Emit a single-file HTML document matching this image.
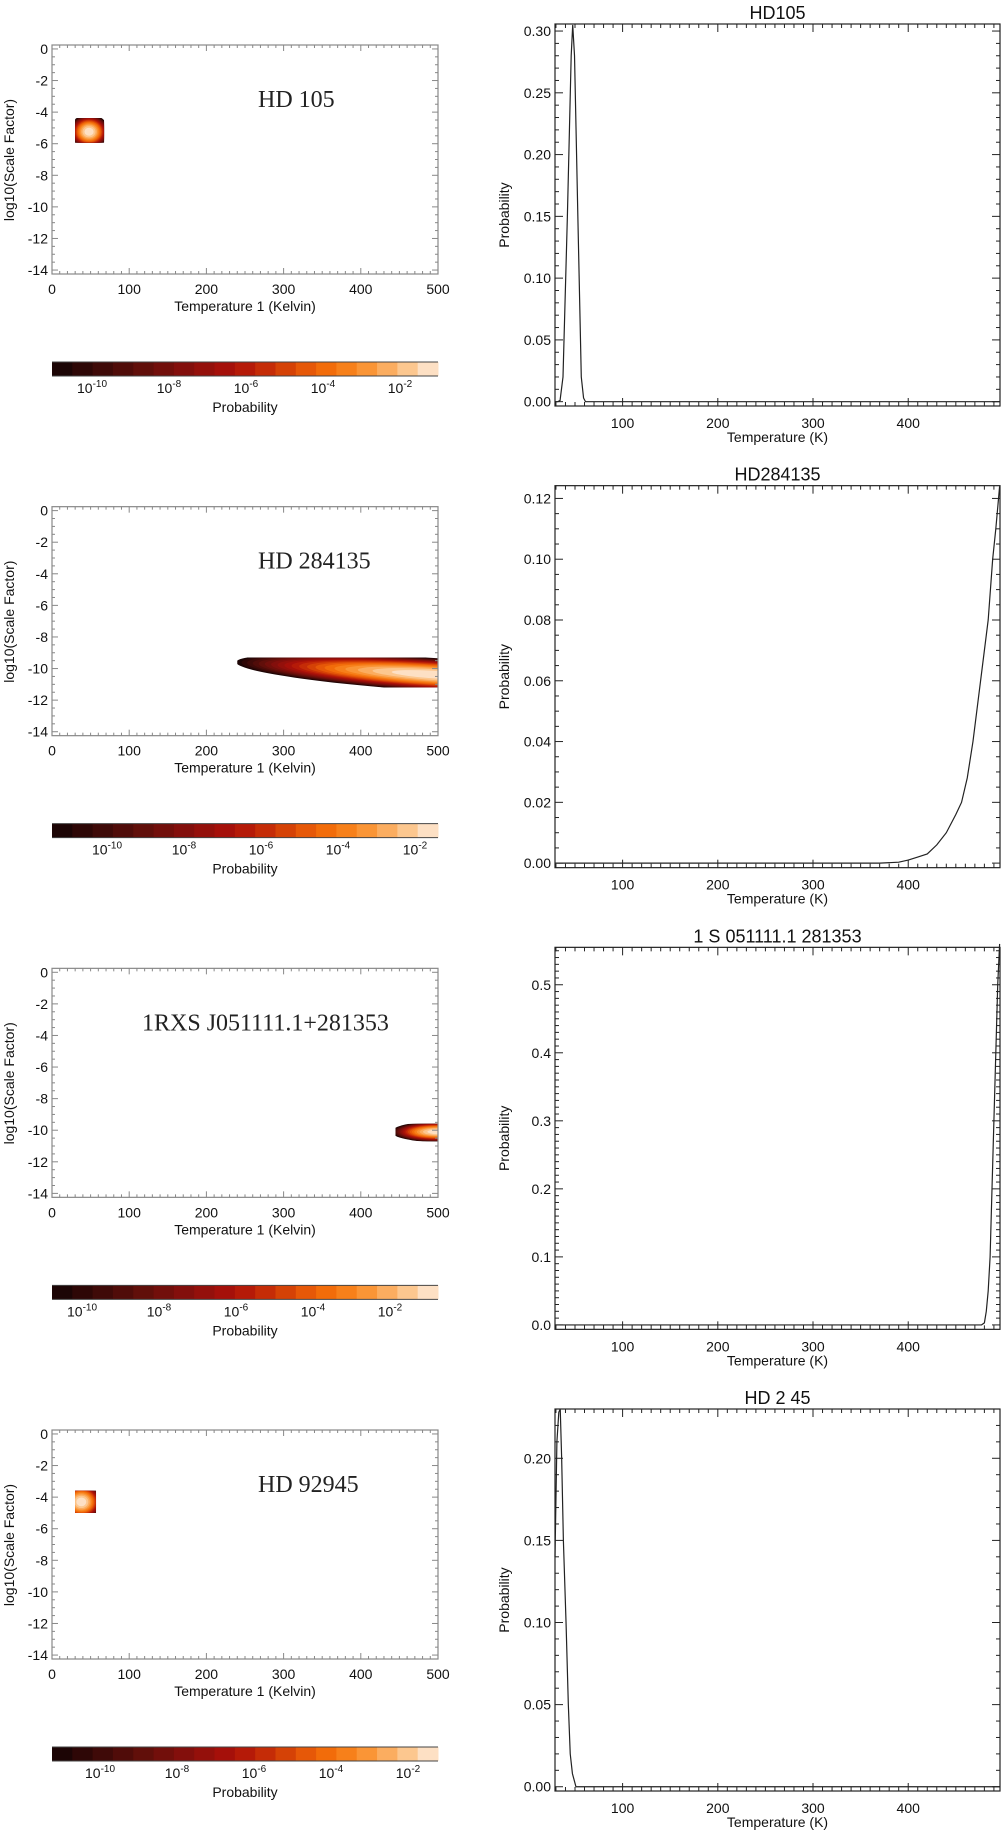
<!DOCTYPE html>
<html><head><meta charset="utf-8">
<style>
html,body{margin:0;padding:0;background:#fff;}
svg{display:block;font-family:"Liberation Sans",sans-serif;}
</style></head>
<body>
<svg id="fig" width="1003" height="1831" viewBox="0 0 1003 1831" xmlns="http://www.w3.org/2000/svg"></svg>
<script>
// ---------- data ----------
const panelTitlesLeft = ["HD 105","HD 284135","1RXS J051111.1+281353","HD 92945"];
const panelTitlesRight = ["HD105","HD284135","1  S 051111.1 281353","HD 2 45"];
const leftTitleX = [258,258,142,258];
// heatmap blob parameters (temperature K, log10 scale factor)
const blobCenterT = [48, 500, 500, 38];
const blobCenterS = [-5.24, -10.4, -10.1, -4.3];
const blobRadT = [26, 262, 60, 28];
const blobRadS = [1.1, 1.05, 0.65, 1.2];
const blobTiltDeg = [0, 3.6, 0, 0];
const blobTmin = [30, 240, 445, 30];
const blobTmax = [67.4, 500, 500, 57];
const blobSmin = [-5.93, -11.2, -10.7, -5.0];
const blobSmax = [-4.37, -9.3, -9.6, -3.6];
// colour table levels
const levelColors = ["#1c0505","#2e0706","#3f0a08","#500c09","#610f0a","#720f0b","#830f0c","#94100b","#a5100a","#b51a08","#c52c07","#d54206","#e65808","#f26c0a","#f7801a","#fa9536","#fbad60","#fcc78f","#fde0c4"];
const cbarExp = ["-10","-8","-6","-4","-2"];
const cbarLabelX0 = [92,107,82,100];
// right line plots
const probT1 = [29,32,34.3,37.4,42,46,47.6,49.5,53,56.6,59,61,65,496];
const probP1 = [0,0,0.001,0.02,0.15,0.28,0.305,0.28,0.15,0.02,0.003,0,0,0];
const probT2 = [29,370,390,400,410,420,430,440,450,456,462,468,472,476,480,484,488.7,492,496];
const probP2 = [0,0,0.0003,0.001,0.002,0.003,0.006,0.01,0.016,0.02,0.028,0.04,0.05,0.06,0.07,0.08,0.10,0.11,0.124];
const probT3 = [29,477,480,482,484,486,488,491,494,496];
const probP3 = [0,0,0.003,0.02,0.05,0.1,0.2,0.35,0.5,0.56];
const probT4 = [29,31,33,34.5,36,37.8,40.6,43,45,47.3,51,496];
const probP4 = [0.14,0.21,0.228,0.23,0.2,0.15,0.1,0.05,0.02,0.008,0,0];
const yMaxR = [0.3057,0.1242,0.555,0.23];
const yMinR = [-0.0035,-0.0015,-0.0065,-0.0026];
const yMajorR = [[0,0.05,0.10,0.15,0.20,0.25,0.30],[0,0.02,0.04,0.06,0.08,0.10,0.12],[0,0.1,0.2,0.3,0.4,0.5],[0,0.05,0.10,0.15,0.20]];
const yMajorLabR = [["0.00","0.05","0.10","0.15","0.20","0.25","0.30"],["0.00","0.02","0.04","0.06","0.08","0.10","0.12"],["0.0","0.1","0.2","0.3","0.4","0.5"],["0.00","0.05","0.10","0.15","0.20"]];
const yMinorStepR = [0.01,0.005,0.01,0.01];
const xMajorR = [100,200,300,400];
const xMajorL = [0,100,200,300,400,500];
const yMajorL = [0,-2,-4,-6,-8,-10,-12,-14];

// ---------- drawing ----------
const NS="http://www.w3.org/2000/svg";
const svg=document.getElementById('fig');
function mk(tag,attrs,parent){const e=document.createElementNS(NS,tag);for(const k in attrs)e.setAttribute(k,attrs[k]);(parent||svg).appendChild(e);return e;}
const STEP=461.67;
const LX0=52,LX1=438,LT=45,LB=274,LTmin=0,LTmax=500,LSmax=0.25,LSmin=-14.25;
const RX0=555,RX1=1000,RT=24,RB=406,RTmin=29,RTmax=496.4;
const probT=[probT1,probT2,probT3,probT4], probP=[probP1,probP2,probP3,probP4];

for(let k=0;k<4;k++){
  const oy=k*STEP;
  const gL=mk('g',{});
  
  
  const xL=t=>LX0+(t-LTmin)/(LTmax-LTmin)*(LX1-LX0);
  const yL=s=>oy+LT+(LSmax-s)/(LSmax-LSmin)*(LB-LT);
  const cp=mk('clipPath',{id:'clip'+k},gL);
  mk('rect',{x:xL(blobTmin[k]),y:yL(blobSmax[k]),width:xL(blobTmax[k])-xL(blobTmin[k]),height:yL(blobSmin[k])-yL(blobSmax[k])},cp);
  const bg=mk('g',{'clip-path':'url(#clip'+k+')'},gL);
  
  
  const cx=xL(blobCenterT[k]), cy=yL(blobCenterS[k]);
  const rx=blobRadT[k]/(LTmax-LTmin)*(LX1-LX0), ry=blobRadS[k]/(LSmax-LSmin)*(LB-LT);
  const n=levelColors.length;
  for(let i=0;i<n;i++){
    const f=Math.sqrt(1-i/n);
    const el=mk('ellipse',{cx:cx,cy:cy,rx:rx*f,ry:ry*f,fill:levelColors[i],transform:'rotate('+blobTiltDeg[k]+' '+cx+' '+cy+')'},bg);
    
    
  }
  mk('rect',{x:LX0,y:oy+LT,width:LX1-LX0,height:LB-LT,fill:'none',stroke:'#888','stroke-width':1.2},gL);
  for(let t=0;t<=500;t+=10){
    const major=t%100===0, len=major?6:3;
    mk('line',{x1:xL(t),x2:xL(t),y1:oy+LB,y2:oy+LB-len,stroke:'#888'},gL);
    mk('line',{x1:xL(t),x2:xL(t),y1:oy+LT,y2:oy+LT+len,stroke:'#888'},gL);
  }
  for(let s=0;s>=-14;s-=0.5){
    const major=Math.abs(s%2)<1e-6, len=major?6:3;
    mk('line',{x1:LX0,x2:LX0+len,y1:yL(s),y2:yL(s),stroke:'#888'},gL);
    mk('line',{x1:LX1,x2:LX1-len,y1:yL(s),y2:yL(s),stroke:'#888'},gL);
  }
  xMajorL.forEach(t=>{const e=mk('text',{x:xL(t),y:oy+LB+20,'text-anchor':'middle','font-size':14,fill:'#111'},gL);e.textContent=t;
    });
  yMajorL.forEach(s=>{const e=mk('text',{x:LX0-4,y:yL(s)+5,'text-anchor':'end','font-size':14,fill:'#111'},gL);e.textContent=s;
    });
  let e=mk('text',{x:(LX0+LX1)/2,y:oy+311,'text-anchor':'middle','font-size':14,fill:'#111'},gL);e.textContent='Temperature 1 (Kelvin)';
  
  e=mk('text',{x:0,y:0,'text-anchor':'middle','font-size':14,fill:'#111',transform:'translate(14 '+(oy+160)+') rotate(-90)'},gL);e.textContent='log10(Scale Factor)';
  
  e=mk('text',{x:leftTitleX[k],y:oy+107,'font-size':24,fill:'#222','font-family':'"Liberation Serif",serif'},gL);e.textContent=panelTitlesLeft[k];
  
  const cb=mk('g',{},gL);
  
  
  const w=(LX1-LX0)/n;
  for(let i=0;i<n;i++){
    const r=mk('rect',{x:LX0+i*w,y:oy+362,width:w+0.5,height:14,fill:levelColors[i]},cb);
    
    
  }
  mk('line',{x1:LX0,x2:LX1,y1:oy+362,y2:oy+362,stroke:'#444'},cb);
  mk('line',{x1:LX0,x2:LX1,y1:oy+376,y2:oy+376,stroke:'#444'},cb);
  cbarExp.forEach((ex,i)=>{
    const t=mk('text',{x:cbarLabelX0[k]+i*77,y:oy+393,'text-anchor':'middle','font-size':14,fill:'#111'},cb);
    
    
    t.appendChild(document.createTextNode('10'));
    const sp=mk('tspan',{dy:-6,'font-size':10},t);sp.textContent=ex;
  });
  e=mk('text',{x:(LX0+LX1)/2,y:oy+412,'text-anchor':'middle','font-size':14,fill:'#111'},cb);e.textContent='Probability';
  

  const gR=mk('g',{});
  
  
  const xR=t=>RX0+(t-RTmin)/(RTmax-RTmin)*(RX1-RX0);
  const yR=p=>oy+RT+(yMaxR[k]-p)/(yMaxR[k]-yMinR[k])*(RB-RT);
  mk('rect',{x:RX0,y:oy+RT,width:RX1-RX0,height:RB-RT,fill:'none',stroke:'#222','stroke-width':1.2},gR);
  for(let t=30;t<=490;t+=10){
    const major=t%100===0, len=major?8:4;
    mk('line',{x1:xR(t),x2:xR(t),y1:oy+RB,y2:oy+RB-len,stroke:'#222'},gR);
    mk('line',{x1:xR(t),x2:xR(t),y1:oy+RT,y2:oy+RT+len,stroke:'#222'},gR);
  }
  const st=yMinorStepR[k];
  for(let i=0;i*st<=yMaxR[k]+1e-9;i++){
    const p=i*st;
    const major=yMajorR[k].some(v=>Math.abs(v-p)<1e-9), len=major?8:4;
    mk('line',{x1:RX0,x2:RX0+len,y1:yR(p),y2:yR(p),stroke:'#222'},gR);
    mk('line',{x1:RX1,x2:RX1-len,y1:yR(p),y2:yR(p),stroke:'#222'},gR);
  }
  xMajorR.forEach(t=>{const e=mk('text',{x:xR(t),y:oy+RB+22,'text-anchor':'middle','font-size':14,fill:'#111'},gR);e.textContent=t;
    });
  yMajorR[k].forEach((p,i)=>{const e=mk('text',{x:RX0-4,y:yR(p)+5,'text-anchor':'end','font-size':14,fill:'#111'},gR);e.textContent=yMajorLabR[k][i];
    });
  e=mk('text',{x:(RX0+RX1)/2,y:oy+RB+36,'text-anchor':'middle','font-size':14,fill:'#111'},gR);e.textContent='Temperature (K)';
  
  e=mk('text',{x:0,y:0,'text-anchor':'middle','font-size':14,fill:'#111',transform:'translate(509 '+(oy+215)+') rotate(-90)'},gR);e.textContent='Probability';
  
  e=mk('text',{x:(RX0+RX1)/2,y:oy+RT-5,'text-anchor':'middle','font-size':18,fill:'#111'},gR);e.textContent=panelTitlesRight[k];
  
  const pts=probT[k].map((t,i)=>xR(t).toFixed(2)+','+yR(probP[k][i]).toFixed(2)).join(' ');
  const pl=mk('polyline',{points:pts,fill:'none',stroke:'#222','stroke-width':1.2},gR);
  
  
}
</script>
</body></html>
